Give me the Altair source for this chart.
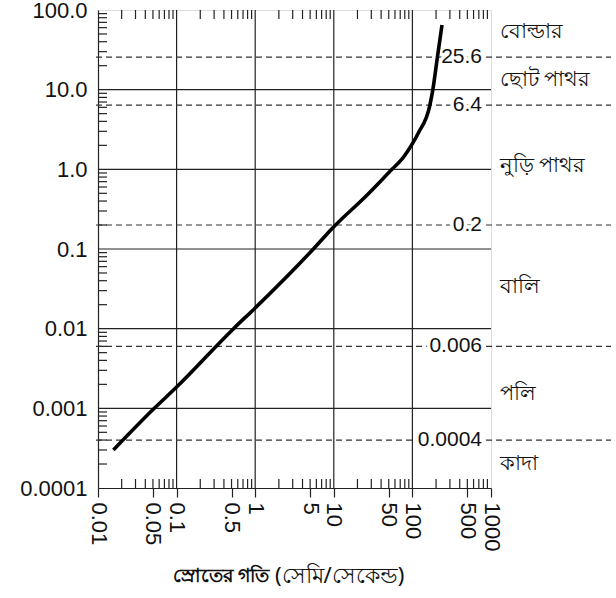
import altair as alt
import pandas as pd

# ---- data ----
speed = [0.0157, 0.052, 0.1, 0.53, 1, 5.5, 10, 25, 55, 74, 100, 119, 167, 182, 208, 238]
grain = [0.0003, 0.001, 0.00185, 0.01, 0.0182, 0.1, 0.19, 0.45, 1, 1.35, 2.1, 2.86, 6.4, 10, 25.6, 65]

x_label_values = [0.01, 0.05, 0.1, 0.5, 1, 5, 10, 50, 100, 500, 1000]
x_decades = [0.01, 0.1, 1, 10, 100]
x_grid = [0.1, 1, 10, 100]
y_decades = [0.0001, 0.001, 0.01, 0.1, 1, 10]
y_grid = [0.001, 0.01, 0.1, 1, 10]
y_label_values = [0.0001, 0.001, 0.01, 0.1, 1, 10, 100]
multipliers = [2, 3, 4, 5, 6, 7, 8, 9]

boundaries = [25.6, 6.4, 0.2, 0.006, 0.0004]
boundary_labels = ["25.6", "6.4", "0.2", "0.006", "0.0004"]

classes = ["বোল্ডার", "ছোট পাথর", "নুড়ি পাথর", "বালি", "পলি", "কাদা"]
class_pos = [53, 13.2, 1.1, 0.033, 0.0015, 0.0002]

title_bold = "স্রোতের গতি"
title_rest = "(সেমি/সেকেন্ড)"

x_minor = [m * d for d in x_decades for m in multipliers]
y_minor = [m * d for d in y_decades for m in multipliers]

W, H = 393, 478
FONT = "Liberation Sans"

xs = alt.Scale(type="log", domain=[0.01, 1000], nice=False)
ys = alt.Scale(type="log", domain=[0.0001, 100], nice=False)

X_AX = alt.Axis(values=x_label_values, labelAngle=90, labelAlign="left",
                labelBaseline="middle", tickSize=9, labelPadding=5, grid=False,
                format="~g", labelFont=FONT, labelFontSize=22, labelColor="#111",
                domainColor="#222", tickColor="#222", tickWidth=1.2, domainWidth=1.2,
                labelOverlap=False, labelFlush=False, title=None)
Y_AX = alt.Axis(values=y_label_values, tickSize=0, labelPadding=11, grid=False,
                labelExpr="datum.value >= 1 ? format(datum.value, '.1f') : format(datum.value, '~g')",
                labelFont=FONT, labelFontSize=22, labelColor="#111",
                domainColor="#222", domainWidth=1.2,
                labelOverlap=False, labelFlush=False, title=None)


def X(f):
    return alt.X(f, type="quantitative", scale=xs, axis=X_AX, title=None)


def Y(f):
    return alt.Y(f, type="quantitative", scale=ys, axis=Y_AX, title=None)


curve_df = pd.DataFrame({"speed": speed, "grain": grain})

grid_x = alt.Chart(pd.DataFrame({"x": x_grid})).mark_rule(color="#222", strokeWidth=1.2).encode(
    x=X("x"), y=alt.value(0), y2=alt.value(H))
grid_y = alt.Chart(pd.DataFrame({"y": y_grid})).mark_rule(color="#222", strokeWidth=1.2).encode(
    y=Y("y"), x=alt.value(0), x2=alt.value(W))

minor_left = alt.Chart(pd.DataFrame({"y": y_minor})).mark_rule(color="#222", strokeWidth=1.2).encode(
    y=Y("y"), x=alt.value(0), x2=alt.value(9))
minor_top = alt.Chart(pd.DataFrame({"x": x_minor})).mark_rule(color="#222", strokeWidth=1.2).encode(
    x=X("x"), y=alt.value(0), y2=alt.value(9))
minor_bottom = alt.Chart(pd.DataFrame({"x": x_minor})).mark_rule(color="#222", strokeWidth=1.2).encode(
    x=X("x"), y=alt.value(H - 9), y2=alt.value(H))

bdf = pd.DataFrame({"y": boundaries, "label": boundary_labels})
dashed = alt.Chart(bdf).mark_rule(color="#333", strokeWidth=1.2, strokeDash=[6, 4]).encode(
    y=Y("y"), x=alt.value(-2), x2=alt.value(W + 120))
halo = alt.Chart(bdf).mark_text(align="right", baseline="middle", font=FONT, fontSize=21,
                                color="white", stroke="white", strokeWidth=7).encode(
    y=Y("y"), x=alt.value(384), text="label:N")
blabels = alt.Chart(bdf).mark_text(align="right", baseline="middle", font=FONT, fontSize=21,
                                   color="#111").encode(
    y=Y("y"), x=alt.value(384), text="label:N")

cdf = pd.DataFrame({"y": class_pos, "label": classes})
class_text = alt.Chart(cdf).mark_text(align="left", baseline="middle", font="Noto Sans", fontSize=21,
                                      color="#111").encode(
    y=Y("y"), x=alt.value(402), text="label:N")

one = pd.DataFrame({"a": [0]})
t1 = alt.Chart(one).mark_text(align="right", baseline="middle", font="Noto Sans", fontSize=19,
                              fontWeight="bold", color="#111").encode(
    x=alt.value(171), y=alt.value(566), text=alt.value(title_bold))
t2 = alt.Chart(one).mark_text(align="left", baseline="middle", font="Noto Sans", fontSize=22,
                              color="#111").encode(
    x=alt.value(177), y=alt.value(566), text=alt.value(title_rest))

curve = alt.Chart(curve_df).mark_line(color="black", strokeWidth=3.6, interpolate="monotone").encode(
    x=X("speed"), y=Y("grain"))

chart = alt.layer(grid_x, grid_y, minor_left, minor_top, minor_bottom, dashed, halo, blabels,
                  class_text, t1, t2, curve).properties(
    width=W, height=H,
    autosize=alt.AutoSizeParams(type="none"),
    padding={"left": 98, "top": 10, "right": 125, "bottom": 110},
).configure_view(stroke="#222", strokeWidth=1.2).configure(background="white")

chart.save("out.html", embed_options={"renderer": "svg", "actions": False})
